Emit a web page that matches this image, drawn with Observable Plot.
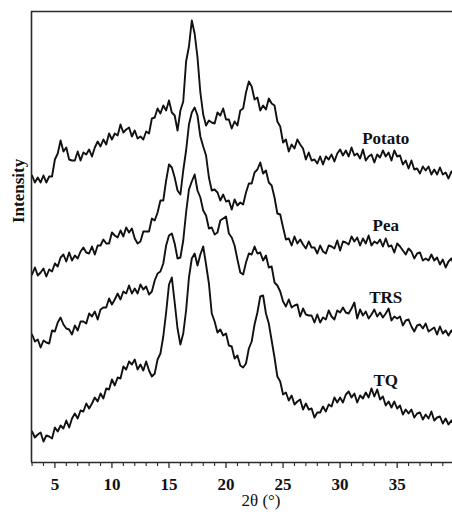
<!DOCTYPE html>
<html><head><meta charset="utf-8">
<script src="https://cdn.jsdelivr.net/npm/d3@7"></script>
<script src="https://cdn.jsdelivr.net/npm/@observablehq/plot@0.6"></script>
<style>html,body{margin:0;padding:0;background:#fff;overflow:hidden}</style>
</head><body><div id="chart"></div>
<script>
const angles = [3,3.25,3.5,3.75,4,4.25,4.5,4.75,5,5.25,5.5,5.75,6,6.25,6.5,6.75,7,7.25,7.5,7.75,8,8.25,8.5,8.75,9,9.25,9.5,9.75,10,10.25,10.5,10.75,11,11.25,11.5,11.75,12,12.25,12.5,12.75,13,13.25,13.5,13.75,14,14.25,14.5,14.75,15,15.25,15.5,15.75,16,16.25,16.5,16.75,17,17.25,17.5,17.75,18,18.25,18.5,18.75,19,19.25,19.5,19.75,20,20.25,20.5,20.75,21,21.25,21.5,21.75,22,22.25,22.5,22.75,23,23.25,23.5,23.75,24,24.25,24.5,24.75,25,25.25,25.5,25.75,26,26.25,26.5,26.75,27,27.25,27.5,27.75,28,28.25,28.5,28.75,29,29.25,29.5,29.75,30,30.25,30.5,30.75,31,31.25,31.5,31.75,32,32.25,32.5,32.75,33,33.25,33.5,33.75,34,34.25,34.5,34.75,35,35.25,35.5,35.75,36,36.25,36.5,36.75,37,37.25,37.5,37.75,38,38.25,38.5,38.75,39,39.25,39.5,39.75,40];

const potato = [287,280,285,280,287,280,286,286,303,309,
322,311,315,303,302,302,311,302,310,308,
313,306,315,321,316,323,318,329,323,329,
327,338,330,333,335,326,332,324,326,323,
331,329,344,345,354,349,357,352,362,350,
347,332,352,361,401,416,442,429,405,370,
348,337,342,340,339,350,347,354,343,343,
334,341,337,352,354,370,381,376,363,365,
352,357,353,364,359,357,341,336,320,323,
311,318,314,323,318,314,303,310,302,303,
299,306,298,306,303,308,301,309,313,307,
312,306,315,307,309,304,313,302,306,308,
300,308,305,312,306,310,302,312,306,307,
298,302,294,302,293,294,289,296,292,296,
288,293,288,295,288,290,284,291,287];

const pea = [188,195,187,190,194,186,193,191,199,196,
205,208,201,210,202,207,204,211,215,210,
209,216,208,217,217,223,219,219,230,227,
225,232,226,235,230,234,224,219,221,231,
231,231,244,242,250,262,262,282,298,295,
285,272,268,292,312,338,350,355,347,326,
316,307,285,272,273,270,262,268,261,262,
253,263,257,260,258,270,279,279,290,293,
300,289,292,280,277,265,249,248,235,223,
224,217,226,219,223,218,214,221,215,215,
209,217,211,209,217,216,214,222,212,221,
220,218,226,221,225,217,224,219,227,217,
221,219,223,216,224,216,217,210,219,216,
212,208,214,211,204,209,210,202,204,202,
208,202,205,198,203,195,201,204,197];

const trs = [128,121,123,115,122,120,119,132,131,140,
145,138,134,133,128,137,132,141,141,139,
149,146,151,143,153,155,155,164,158,163,
169,163,171,169,177,169,174,169,178,173,
176,168,171,182,189,191,199,217,227,229,
219,204,205,222,250,273,281,288,272,265,
252,247,234,235,228,230,242,244,246,229,
225,217,203,190,188,200,209,208,216,209,
210,202,207,195,196,180,177,171,161,156,
163,155,157,158,146,154,148,147,147,140,
148,140,145,143,152,146,143,152,150,155,
150,149,154,160,144,153,147,151,144,148,
153,146,150,145,149,154,142,146,144,146,
137,142,143,136,131,137,138,134,139,131,
133,135,128,136,129,132,127,132,128];

const tq = [31,25,28,30,21,27,26,24,35,31,
37,34,42,35,44,49,44,52,51,59,
54,59,65,61,69,64,74,73,83,77,
85,84,96,93,101,98,103,93,98,92,
101,92,86,89,103,109,126,150,178,185,
160,134,118,129,152,185,204,209,197,208,
216,198,179,149,141,130,133,127,129,117,
116,104,107,97,95,99,114,121,138,150,
166,167,149,139,122,105,86,81,68,70,
62,67,58,61,63,53,59,53,54,45,
50,50,56,51,58,56,65,60,65,60,
68,71,65,69,60,67,64,70,65,74,
66,73,63,66,57,61,55,61,54,57,
48,53,49,53,45,49,50,43,48,44,
51,42,45,46,39,44,38,42,38];

const seriesNames = ["Potato", "Pea", "TRS", "TQ"];
const seriesValues = [potato, pea, trs, tq];
const majorTicks = [5, 10, 15, 20, 25, 30, 35];
const minorTicks = [3,4,6,7,8,9,11,12,13,14,16,17,18,19,21,22,23,24,26,27,28,29,31,32,33,34,36,37,38,39];
const labelAngle = 34;
const labelIntensity = [324, 237, 165, 82];
const xDomain = [2.95, 39.85];
const yDomain = [0, 451];
const xTitle = "2θ (°)";
const yTitle = "Intensity";

const rows = [];
seriesNames.forEach((name, k) => {
  seriesValues[k].forEach((v, i) => rows.push({series: name, angle: angles[i], intensity: v}));
});

const font = '"Liberation Serif", "Times New Roman", serif';
const axisColor = "#2a2a2a";

const chart = Plot.plot({
  width: 452,
  height: 518,
  marginLeft: 31,
  marginRight: 0,
  marginTop: 11,
  marginBottom: 56,
  style: {fontFamily: font, background: "#fff", color: "#111"},
  x: {domain: xDomain},
  y: {domain: yDomain, axis: null},
  marks: [
    Plot.line(rows, {x: "angle", y: "intensity", z: "series", stroke: "#111", strokeWidth: 1.9, clip: true}),
    Plot.axisX(minorTicks, {tickSize: 4, text: null, label: null, stroke: axisColor, strokeWidth: 1.1}),
    Plot.axisX(majorTicks, {tickSize: 6, tickPadding: 9, fontSize: 17, fontWeight: "bold", label: null, stroke: axisColor, strokeWidth: 1.3, fill: "#111"}),
    Plot.ruleY([yDomain[0]], {stroke: axisColor, strokeWidth: 1.6}),
    Plot.ruleY([yDomain[1]], {stroke: axisColor, strokeWidth: 1.4}),
    Plot.ruleX([xDomain[0]], {stroke: axisColor, strokeWidth: 1.6}),
    Plot.text(seriesNames, {x: () => labelAngle, y: (d, i) => labelIntensity[i], text: d => d, fontSize: 17, fontWeight: "bold", fill: "#111"}),
    Plot.text([xTitle], {frameAnchor: "bottom", text: d => d, dx: 19, dy: 43, fontSize: 17, fill: "#111"}),
    Plot.text([yTitle], {frameAnchor: "left", text: d => d, dx: -13, dy: -14, rotate: -90, fontSize: 17, fontWeight: "bold", fill: "#111"})
  ]
});
document.getElementById("chart").append(chart);
</script>
</body></html>
